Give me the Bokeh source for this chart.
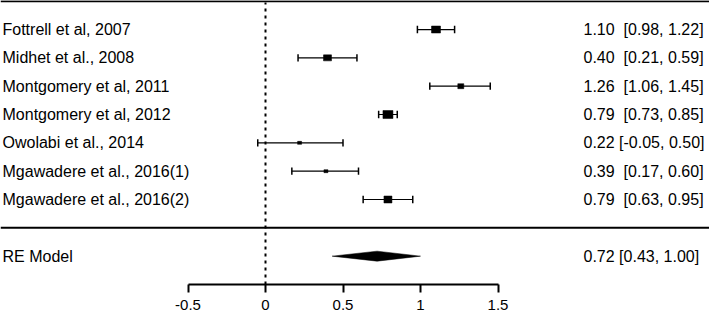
from bokeh.plotting import figure
from bokeh.models import LinearAxis, FixedTicker, Span, ColumnDataSource, Range1d
from bokeh.core.properties import value
from bokeh.embed import file_html
from bokeh.resources import INLINE

# ---- data ----
studies = ["Fottrell et al, 2007", "Midhet et al., 2008", "Montgomery et al, 2011",
           "Montgomery et al, 2012", "Owolabi et al., 2014", "Mgawadere et al., 2016(1)",
           "Mgawadere et al., 2016(2)"]
est = [1.10, 0.40, 1.26, 0.79, 0.22, 0.39, 0.79]
ci_lo = [0.98, 0.21, 1.06, 0.73, -0.05, 0.17, 0.63]
ci_hi = [1.22, 0.59, 1.45, 0.85, 0.50, 0.60, 0.95]
re_label = "RE Model"
re_est, re_lo, re_hi = 0.72, 0.43, 1.00
tick_vals = [-0.5, 0, 0.5, 1, 1.5]
tick_labels = ["-0.5", "0", "0.5", "1", "1.5"]

# ---- styles ----
box_w = [9, 8, 6, 10, 4, 4, 8]
box_h = [7, 6, 5, 8, 3, 3, 7]
FONT = "Liberation Sans"

W, H = 709, 315
FRAME_H = 284
UNIT = 28.33          # px per row
X0 = 265              # px of x = 0
PPU = 155             # px per x unit

xr = Range1d(-X0 / PPU, (W - X0) / PPU)
yr = Range1d(0, FRAME_H / UNIT)

p = figure(width=W, height=H, x_range=xr, y_range=yr, output_backend="svg",
           toolbar_location=None, x_axis_type=None, y_axis_type=None,
           min_border_left=0, min_border_right=0, min_border_top=0,
           min_border_bottom=H - FRAME_H, outline_line_color=None,
           background_fill_color="white", border_fill_color="white")

n = len(studies)
ys = [n + 2 - i for i in range(n)]      # 9 .. 3
top_y = n + 3
sep_y = 2
re_y = 1

# top and separator lines
p.add_layout(Span(location=top_y, dimension="width", line_color="black", line_width=2))
p.add_layout(Span(location=sep_y, dimension="width", line_color="black", line_width=2))

# reference line at 0
p.segment(x0=[0], y0=[0], x1=[0], y1=[top_y - 0.05], line_color="black",
          line_width=2, line_dash="3 4")

src = ColumnDataSource(dict(y=ys, est=est, lo=ci_lo, hi=ci_hi, w=box_w, h=box_h,
                            cap0=[y - 0.13 for y in ys], cap1=[y + 0.13 for y in ys]))
p.segment(x0="lo", y0="y", x1="hi", y1="y", source=src, line_color="black", line_width=1.2)
p.segment(x0="lo", y0="cap0", x1="lo", y1="cap1", source=src, line_color="black", line_width=1.5)
p.segment(x0="hi", y0="cap0", x1="hi", y1="cap1", source=src, line_color="black", line_width=1.5)
p.rect(x="est", y="y", width="w", height="h", width_units="screen", height_units="screen",
       source=src, fill_color="black", line_color="black", line_width=0.5)

# RE diamond
dh = 5 / UNIT
p.patch(x=[re_lo, re_est, re_hi, re_est], y=[re_y, re_y + dh, re_y, re_y - dh],
        fill_color="black", line_color="black", line_width=0.5)

# labels
left_x = (2 - X0) / PPU
right_x = (583 - X0) / PPU
def fmt(e, l, h):
    gap = "\u00a0 " if l >= 0 else " "
    return f"{e:.2f}{gap}[{l:.2f}, {h:.2f}]"

lab_src = ColumnDataSource(dict(
    y=ys + [re_y],
    name=studies + [re_label],
    ann=[fmt(e, l, h) for e, l, h in zip(est, ci_lo, ci_hi)] + [f"{re_est:.2f} [{re_lo:.2f}, {re_hi:.2f}]"],
))
p.text(x=left_x, y="y", text="name", source=lab_src, text_font=value(FONT),
       text_font_size="16px", text_align="left", text_baseline="middle", text_color="black")
p.text(x=right_x, y="y", text="ann", source=lab_src, text_font=value(FONT),
       text_font_size="16px", text_align="left", text_baseline="middle", text_color="black")

# x axis
ax = LinearAxis(ticker=FixedTicker(ticks=tick_vals), bounds=(-0.5, 1.5),
                major_label_overrides={float(v): s for v, s in zip(tick_vals, tick_labels)},
                axis_line_color="black", axis_line_width=2,
                major_tick_line_color="black", major_tick_line_width=2,
                major_tick_in=0, major_tick_out=8, minor_tick_line_color=None,
                major_label_text_font=FONT, major_label_text_font_size="15px",
                major_label_text_color="black", major_label_standoff=7)
p.add_layout(ax, "below")

open("out.html", "w").write(file_html(p, INLINE))
